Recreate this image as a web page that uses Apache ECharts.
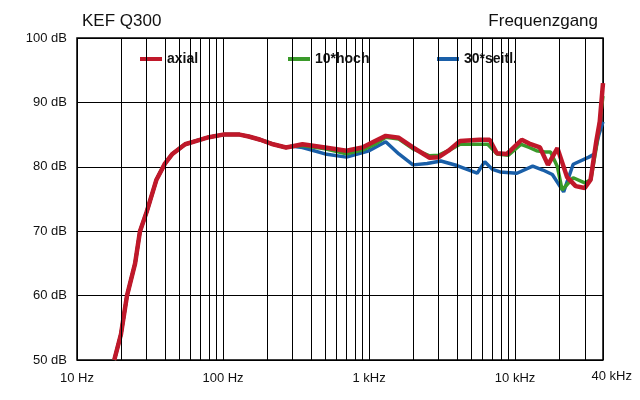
<!DOCTYPE html>
<html><head><meta charset="utf-8">
<script src="https://cdn.jsdelivr.net/npm/echarts@6/dist/echarts.min.js"></script>
<style>html,body{margin:0;background:#fff}#c{width:640px;height:400px}</style></head>
<body><div id="c"></div>
<script>
var freqShared = [18,20,22,25,27,30,35,40,45,55,65,80,100,130,150,180,220,270,300];
var dbShared   = [50,54,60,65,70,73,78,80.5,82,83.5,84,84.6,85,85,84.7,84.2,83.5,83,83.2];
var freqAxial = [350,500,700,900,1100,1300,1600,2000,2600,3000,3500,4200,5700,6700,7500,8800,11100,12500,14800,16800,19500,22700,26000,30000,32900,36000,38000,40000];
var dbAxial   = [83.5,83,82.5,83,84,84.8,84.5,83,81.4,81.5,82.5,84,84.2,84.2,82.1,82,84.2,83.6,83,80.3,82.9,78.4,77,76.7,78,84,87,93];
var freqHoch = [350,500,700,900,1100,1300,1600,2000,2600,3000,3500,4200,5500,6500,7500,9000,11000,12500,14000,16000,17500,19500,21000,25000,30000,33000,36000,38000,40000];
var dbHoch   = [83.3,82.8,82,82.6,83.5,84.6,84.3,82.8,81.7,81.8,82.5,83.5,83.5,83.5,82,81.8,83.5,83,82.5,82.3,82.3,80,76.4,78.3,77.5,78,83,87,91];
var freqSeitl = [350,500,700,1000,1300,1600,2000,2500,3100,4000,5500,6200,7000,7900,10300,13200,15500,18000,21500,25000,32000,35000,37500,40000];
var dbSeitl   = [83,82,81.5,82.5,83.9,82,80.3,80.5,80.9,80.2,79,80.8,79.6,79.2,79,80.1,79.5,78.8,76.1,80.4,81.5,82,85,87];
var gridFreqs = [20,30,40,50,60,70,80,90,200,300,400,500,600,700,800,900,2000,3000,4000,5000,6000,7000,8000,9000,20000,30000];
var yTicks = [50,60,70,80,90,100];
var xLabels = {10:'10 Hz',100:'100 Hz',1000:'1 kHz',10000:'10 kHz'};

function pairs(f,d){return f.map(function(v,i){return [v,d[i]];});}
var shared = pairs(freqShared, dbShared);
var chart = echarts.init(document.getElementById('c'));
var ff = 'Liberation Sans, Arial, sans-serif';
function lg(name,left){return {data:[name],left:left,top:47,itemWidth:22,itemHeight:4,
  icon:'rect',textStyle:{fontFamily:ff,fontSize:14,fontWeight:'bold',color:'#111'}};}
chart.setOption({
  animation:false,
  grid:{left:77,right:37,top:38,bottom:40,show:true,borderColor:'#000',borderWidth:1.5},
  title:[{text:'KEF Q300',left:77,top:8,textStyle:{fontFamily:ff,fontSize:17,fontWeight:'normal',color:'#111'}},
         {text:'Frequenzgang',right:37,top:8,textStyle:{fontFamily:ff,fontSize:17,fontWeight:'normal',color:'#111'}}],
  legend:[lg('axial',135),lg('10*hoch',283),lg('30*seitl.',432)],
  xAxis:{type:'log',min:10,max:40000,logBase:10,
    axisLine:{show:false},axisTick:{show:false},
    splitLine:{show:true,lineStyle:{color:'#000',width:1}},
    axisLabel:{fontFamily:ff,fontSize:13,color:'#111',margin:12,showMaxLabel:false,
      formatter:function(v){return xLabels[Math.round(v)]||'';}}},
  yAxis:{type:'value',min:50,max:100,interval:10,
    axisLine:{show:false},axisTick:{show:false},
    splitLine:{lineStyle:{color:'#000',width:1}},
    axisLabel:{fontFamily:ff,fontSize:13,color:'#111',margin:10,formatter:'{value} dB'}},
  graphic:[{type:'text',right:8,top:370,style:{text:'40 kHz',font:'13px Liberation Sans, Arial',fill:'#111'}}],
  series:[
    {type:'line',name:'grid',data:[],silent:true,
      markLine:{silent:true,symbol:'none',label:{show:false},
        lineStyle:{color:'#000',width:1,type:'solid'},
        data:gridFreqs.map(function(f){return {xAxis:f};})}},
    {type:'line',name:'30*seitl.',color:'#1a5fa8',showSymbol:false,lineStyle:{width:3.5},
      data:shared.concat(pairs(freqSeitl,dbSeitl))},
    {type:'line',name:'10*hoch',color:'#3a9a2a',showSymbol:false,lineStyle:{width:3.5},
      data:shared.concat(pairs(freqHoch,dbHoch))},
    {type:'line',name:'axial',color:'#c0182a',showSymbol:false,lineStyle:{width:4.5},
      data:shared.concat(pairs(freqAxial,dbAxial))}
  ]
});
</script></body></html>
